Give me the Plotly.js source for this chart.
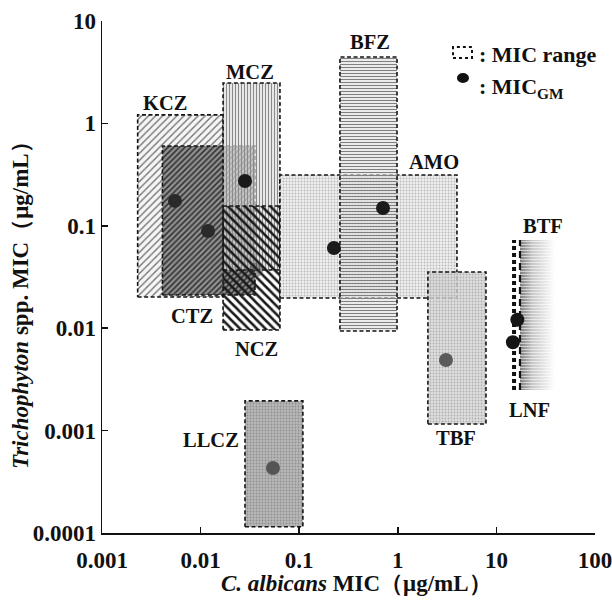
<!DOCTYPE html>
<html><head><meta charset="utf-8">
<script src="https://cdn.plot.ly/plotly-3.0.1.min.js"></script>
<style>html,body{margin:0;padding:0;background:#fff;}#chart{width:612px;height:606px;}</style>
</head><body><div id="chart"></div>
<script>
// ---- data ----
const drugs = ['KCZ','CTZ','MCZ','NCZ','AMO','BFZ','TBF','LLCZ'];
const caMin = [0.0023, 0.0041, 0.0169, 0.0169, 0.0638, 0.259, 2.02, 0.0282];
const caMax = [0.0169, 0.0356, 0.0638, 0.0638, 3.98, 0.982, 7.84, 0.109];
const trMin = [0.0202, 0.0211, 0.037, 0.0096, 0.0197, 0.0094, 0.00116, 0.000115];
const trMax = [1.21, 0.601, 2.48, 0.156, 0.313, 4.45, 0.0354, 0.00195];

const lineDrugs = ['BTF','LNF'];
const lineCa = [15.1, 17.35];
const lineTrMin = [0.00249, 0.00249];
const lineTrMax = [0.0726, 0.0726];

const gmDrugs = ['KCZ','CTZ','MCZ','NCZ','AMO','BFZ','TBF','LLCZ','BTF','LNF'];
const gmCa = [0.0055, 0.0119, 0.0282, 0.0365, 0.225, 0.708, 3.08, 0.0542, 16.3, 14.7];
const gmTr = [0.175, 0.089, 0.274, 0.037, 0.0607, 0.149, 0.00489, 0.000431, 0.0121, 0.0073];

const xTickVals = [0.001, 0.01, 0.1, 1, 10, 100];
const xTickText = ['0.001', '0.01', '0.1', '1', '10', '100'];
const yTickVals = [0.0001, 0.001, 0.01, 0.1, 1, 10];
const yTickText = ['0.0001', '0.001', '0.01', '0.1', '1', '10'];

// ---- styles ----
const FONT = 'Liberation Serif, Times New Roman, serif';
const border = {color: '#151515', width: 1.6, dash: '4px,2.5px'};
const patterns = {
  KCZ:  {shape: '/',  size: 5, solidity: 0.26, fgcolor: '#707070', bgcolor: 'rgba(245,245,245,1)'},
  CTZ:  {shape: '/',  size: 4, solidity: 0.42, fgcolor: '#333333', bgcolor: 'rgba(145,145,145,1)'},
  MCZ:  {shape: '|',  size: 3, solidity: 0.35, fgcolor: '#8a8a8a', bgcolor: 'rgba(222,222,222,0.7)'},
  NCZ:  {shape: '\\', size: 6, solidity: 0.42, fgcolor: '#1a1a1a', bgcolor: 'rgba(255,255,255,0)'},
  AMO:  {shape: '.',  size: 3, solidity: 0.3,  fgcolor: '#b8b8b8', bgcolor: 'rgba(236,236,236,0.85)'},
  BFZ:  {shape: '-',  size: 3, solidity: 0.4,  fgcolor: '#808080', bgcolor: 'rgba(238,238,238,0.55)'},
  TBF:  {shape: '.',  size: 3, solidity: 0.3,  fgcolor: '#b0b0b0', bgcolor: 'rgba(214,214,214,0.8)'},
  LLCZ: {shape: '.',  size: 3, solidity: 0.3,  fgcolor: '#909090', bgcolor: 'rgba(184,184,184,1)'}
};
const dotColors = {KCZ:'#2a2a2a', CTZ:'#2a2a2a', MCZ:'#1a1a1a', NCZ:'rgba(40,40,40,0.45)', AMO:'#1a1a1a',
  BFZ:'#1a1a1a', TBF:'#5a5a5a', LLCZ:'#555555', BTF:'#151515', LNF:'#151515'};

// label anchor positions (data coords) for drug names
const labelPos = {
  KCZ: [0.00436, 1.58], MCZ: [0.0317, 3.18], BFZ: [0.523, 6.24], AMO: [2.33, 0.42],
  CTZ: [0.00819, 0.01315], NCZ: [0.0373, 0.00627], LLCZ: [0.01275, 0.000809],
  TBF: [3.89, 0.000847], BTF: [29.7, 0.0995], LNF: [21.9, 0.00159]
};

const traces = [];
drugs.forEach((d, i) => {
  traces.push({
    type: 'scatter', mode: 'lines', name: d, showlegend: false, hoverinfo: 'name',
    x: [caMin[i], caMax[i], caMax[i], caMin[i], caMin[i]],
    y: [trMin[i], trMin[i], trMax[i], trMax[i], trMin[i]],
    fill: 'toself', fillcolor: 'rgba(0,0,0,0)',
    fillpattern: Object.assign({fillmode: 'replace', fgopacity: 1}, patterns[d]),
    line: border
  });
});

// gradient band to the right of the BTF / LNF ranges
const gx0 = lineCa[1], gx1 = lineCa[1] * 2.25;
traces.push({
  type: 'scatter', mode: 'lines', showlegend: false, hoverinfo: 'skip',
  x: [gx0, gx1, gx1, gx0, gx0],
  y: [lineTrMin[1], lineTrMin[1], lineTrMax[1], lineTrMax[1], lineTrMin[1]],
  fill: 'toself', line: {width: 0},
  fillgradient: {type: 'horizontal', colorscale: [[0, 'rgb(125,125,125)'], [0.35, 'rgb(200,200,200)'], [1, 'rgb(255,255,255)']]}
});
traces.push({
  type: 'scatter', mode: 'lines', showlegend: false, hoverinfo: 'skip',
  x: [gx0, gx1, gx1, gx0, gx0],
  y: [lineTrMin[1], lineTrMin[1], lineTrMax[1], lineTrMax[1], lineTrMin[1]],
  fill: 'toself', fillcolor: 'rgba(0,0,0,0)', line: {width: 0},
  fillpattern: {shape: '-', size: 3, solidity: 0.35, fgcolor: '#ffffff', fgopacity: 0.55, bgcolor: 'rgba(0,0,0,0)', fillmode: 'replace'}
});
const lineStyles = [
  {color: '#111', width: 4, dash: '4px,3px'},
  {color: '#111', width: 2.2, dash: '7px,5px'}
];
lineDrugs.forEach((d, i) => {
  traces.push({
    type: 'scatter', mode: 'lines', name: d, showlegend: false, hoverinfo: 'name',
    x: [lineCa[i], lineCa[i]], y: [lineTrMin[i], lineTrMax[i]],
    line: lineStyles[i]
  });
});

traces.push({
  type: 'scatter', mode: 'markers', showlegend: false, text: gmDrugs, hoverinfo: 'text+x+y',
  x: gmCa, y: gmTr,
  marker: {size: 14, color: gmDrugs.map(d => dotColors[d]), line: {width: 0}}
});

const annotations = Object.keys(labelPos).map(d => ({
  x: Math.log10(labelPos[d][0]), y: Math.log10(labelPos[d][1]), xref: 'x', yref: 'y',
  text: '<b>' + d + '</b>', showarrow: false, xanchor: 'center', yanchor: 'middle',
  font: {family: FONT, size: 20.5, color: '#111'}
}));
annotations.push(
  {xref: 'paper', yref: 'paper', x: 0.7606, y: 0.9336, xanchor: 'left', yanchor: 'middle', showarrow: false,
   text: '<b>: MIC range</b>', font: {family: FONT, size: 22, color: '#111'}},
  {xref: 'paper', yref: 'paper', x: 0.7606, y: 0.870, xanchor: 'left', yanchor: 'middle', showarrow: false,
   text: '<b>: MIC<sub>GM</sub></b>', font: {family: FONT, size: 22, color: '#111'}},
  {xref: 'paper', yref: 'paper', x: 0.516, y: -0.0996, xanchor: 'center', yanchor: 'middle', showarrow: false,
   text: '<b><i>C. albicans</i> MIC（μg/mL）</b>', font: {family: FONT, size: 23, color: '#111'}},
  {xref: 'paper', yref: 'paper', x: -0.1663, y: 0.455, xanchor: 'center', yanchor: 'middle', showarrow: false,
   textangle: -90, text: '<b><i>Trichophyton</i> spp. MIC（μg/mL）</b>', font: {family: FONT, size: 23, color: '#111'}}
);

const shapes = [
  {type: 'rect', xref: 'paper', yref: 'paper', x0: 0.712, x1: 0.7505, y0: 0.9277, y1: 0.949,
   line: {color: '#111', width: 2, dash: 'dot'}, fillcolor: 'rgba(0,0,0,0)'},
  {type: 'circle', xref: 'paper', yref: 'paper', x0: 0.720, x1: 0.7444, y0: 0.8789, y1: 0.8984,
   line: {width: 0}, fillcolor: '#111'}
];

const axisCommon = {
  type: 'log', showgrid: false, zeroline: false, showline: true, linecolor: '#111', linewidth: 1.5,
  ticks: 'inside', ticklen: 6, tickwidth: 1.5, tickcolor: '#111', mirror: false, tickmode: 'array',
  ticklabeloverflow: 'allow', tickfont: {family: FONT, size: 23, color: '#111', weight: 'bold'}
};

const layout = {
  width: 612, height: 606, margin: {l: 102, r: 17, t: 21, b: 73},
  paper_bgcolor: '#fff', plot_bgcolor: '#fff', showlegend: false,
  xaxis: Object.assign({}, axisCommon, {range: [-3, 2], tickvals: xTickVals, ticktext: xTickText, ticklabelstandoff: 6}),
  yaxis: Object.assign({}, axisCommon, {range: [-4, 1], tickvals: yTickVals, ticktext: yTickText}),
  annotations: annotations, shapes: shapes
};

Plotly.newPlot('chart', traces, layout, {displayModeBar: false, staticPlot: true});
</script></body></html>
